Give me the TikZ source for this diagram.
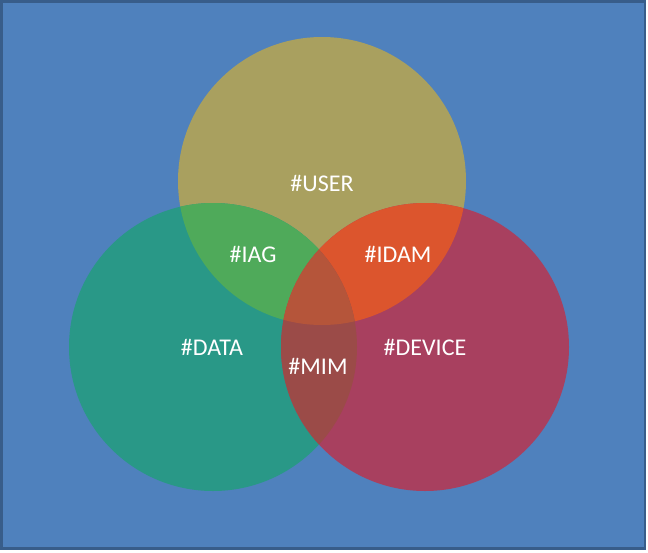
\documentclass[tikz,border=0pt]{standalone}
\usepackage{fontspec}
\setmainfont{Carlito}
\definecolor{bgblue}{HTML}{4F81BD}
\definecolor{bgedge}{HTML}{385D8A}
\definecolor{userc}{HTML}{A9A05F}
\definecolor{datac}{HTML}{299887}
\definecolor{devc}{HTML}{A8405F}
\definecolor{iagc}{HTML}{4FAA5A}
\definecolor{idamc}{HTML}{DC552D}
\definecolor{mimc}{HTML}{9B4B48}
\definecolor{allc}{HTML}{B5553A}
\tikzset{lbl/.style={text=white,font=\fontsize{24}{28}\selectfont,inner sep=0pt}}
\begin{document}
\begin{tikzpicture}[x=1pt,y=-1pt]
\useasboundingbox (0,0) rectangle (648,552);
\fill[bgblue] (1.5,1.5) rectangle (645,548.5);
\draw[bgedge,line width=2.5pt] (1.5,1.5) rectangle (645,548.5);
\def\R{144}
\coordinate (U) at (322,181);
\coordinate (D) at (213,347);
\coordinate (V) at (425,347);
\fill[userc] (U) circle (\R);
\fill[datac] (D) circle (\R);
\fill[devc] (V) circle (\R);
\begin{scope}
\clip (U) circle (\R);
\fill[iagc] (D) circle (\R);
\fill[idamc] (V) circle (\R);
\end{scope}
\begin{scope}
\clip (D) circle (\R);
\fill[mimc] (V) circle (\R);
\clip (V) circle (\R);
\fill[allc] (U) circle (\R);
\end{scope}
\node[lbl] (tuser) at (322,183) {\#USER};
\node[lbl] (tiag) at (253,254) {\#IAG};
\node[lbl] (tidam) at (398,254) {\#IDAM};
\node[lbl] (tdata) at (212,347) {\#DATA};
\node[lbl] (tmim) at (318,366) {\#MIM};
\node[lbl] (tdev) at (425,347) {\#DEVICE};
\end{tikzpicture}
\end{document}
